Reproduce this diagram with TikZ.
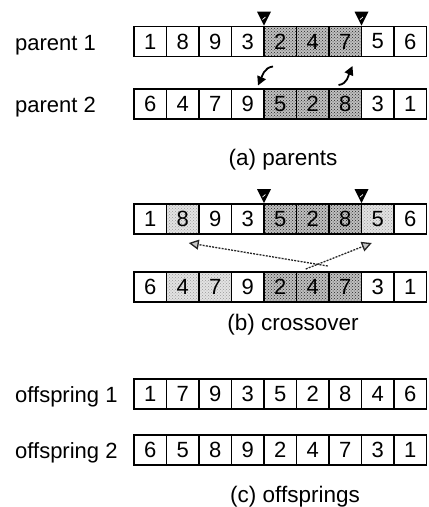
\documentclass[tikz,border=0pt]{standalone}
\usepackage{fontspec}
\setmainfont{Liberation Sans}
\usetikzlibrary{patterns,arrows.meta,calc}
\begin{document}
\begin{tikzpicture}[x=1pt,y=-1pt,
  cell/.style={draw,line width=1.8pt,minimum width=32.5pt,minimum height=30pt,inner sep=0pt,outer sep=0pt,font=\fontsize{22}{24}\selectfont},
  sn/.style={},
  sd/.style={preaction={fill=gray!50},pattern=crosshatch dots,pattern color=black!85},
  sl/.style={preaction={fill=gray!22},pattern=crosshatch dots,pattern color=gray!80},
  lbl/.style={anchor=base west,inner sep=0pt,font=\fontsize{22}{24}\selectfont},
  capt/.style={inner sep=0pt,font=\fontsize{22.5}{24}\selectfont},
  swap/.style={line width=1.8pt,-{Triangle[width=9pt,length=9pt]}},
  xarrow/.style={black!85,line width=1.3pt,dash pattern=on 2pt off 1.2pt,-{Triangle[width=10pt,length=10pt,fill=gray!45]}}
]
\useasboundingbox (0,0) rectangle (429,507);

\foreach \rn/\yy/\cells in {
  p1/41.5/{1/sn,8/sn,9/sn,3/sn,2/sd,4/sd,7/sd,5/sn,6/sn},
  p2/104/{6/sn,4/sn,7/sn,9/sn,5/sd,2/sd,8/sd,3/sn,1/sn},
  b1/219/{1/sn,8/sl,9/sn,3/sn,5/sd,2/sd,8/sd,5/sl,6/sn},
  b2/287/{6/sn,4/sl,7/sl,9/sn,2/sd,4/sd,7/sd,3/sn,1/sn},
  o1/394/{1/sn,7/sn,9/sn,3/sn,5/sn,2/sn,8/sn,4/sn,6/sn},
  o2/450/{6/sn,5/sn,8/sn,9/sn,2/sn,4/sn,7/sn,3/sn,1/sn}}{
  \foreach \d/\s [count=\i] in \cells {
    \node[cell,\s] (\rn c\i) at ({134+32.5*(\i-0.5)},\yy) {\d};
  }
}

% row labels
\node[lbl] (l1) at (15,50) {parent 1};
\node[lbl] (l2) at (15,112) {parent 2};
\node[lbl] (l3) at (15,402) {offspring 1};
\node[lbl] (l4) at (15,458) {offspring 2};

% captions
\node[capt] (ca) at (283,160) {(a) parents};
\node[capt] (cb) at (293,325) {(b) crossover};
\node[capt] (cc) at (295,497) {(c) offsprings};

% cut point markers
\foreach \n in {p1c4,p1c7,b1c4,b1c7}{
  \fill ([yshift=1pt]\n.north east) -- ++(-7,-14) -- ++(14,0) -- cycle;
  \draw[white,line width=0.7pt] ($(\n.north east)+(-1.5,-7)$) -- ++(3,-2.5);
}

% swap arrows
\coordinate (sa1) at ($(p1c5.south west)+(9,10)$);
\coordinate (sa2) at ($(p1c5.south west)+(-6,29)$);
\draw[swap] (sa1) .. controls ($(sa1)+(-9,1)$) and ($(sa2)+(4,-9)$) .. (sa2);
\coordinate (sb1) at ($(p1c7.south east)+(-23,28.5)$);
\coordinate (sb2) at ($(p1c7.south east)+(-9,9.5)$);
\draw[swap] (sb1) .. controls ($(sb1)+(9,-1)$) and ($(sb2)+(-4,9)$) .. (sb2);

% crossover mapping arrows
\coordinate (xa1) at ($(b2c6.north)+(15,-6)$);
\coordinate (xa2) at ($(b1c2.south)+(6,9)$);
\coordinate (xb1) at ($(b2c6.north)+(-7,-3)$);
\coordinate (xb2) at ($(b1c8.south)+(-6,9)$);
\draw[xarrow] (xa1) -- (xa2);
\draw[xarrow] (xb1) -- (xb2);
\end{tikzpicture}
\end{document}
